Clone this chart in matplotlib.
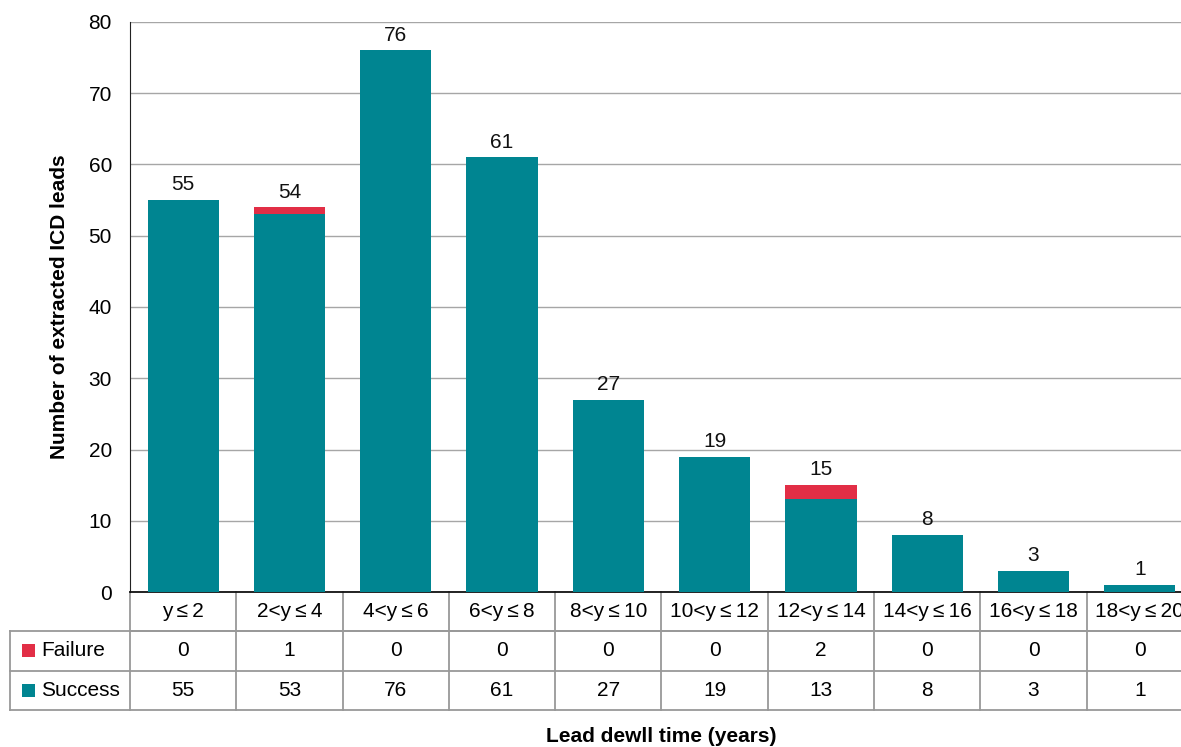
import matplotlib
matplotlib.use("Agg")
import matplotlib.pyplot as plt
import matplotlib.patches as mpatches
import numpy as np

plt.rcParams['font.family'] = ['Liberation Sans', 'DejaVu Sans']

# data
categories = ["y\u2009\u2264\u20092", "2<y\u2009\u2264\u20094", "4<y\u2009\u2264\u20096", "6<y\u2009\u2264\u20098",
              "8<y\u2009\u2264\u200910", "10<y\u2009\u2264\u200912", "12<y\u2009\u2264\u200914",
              "14<y\u2009\u2264\u200916", "16<y\u2009\u2264\u200918", "18<y\u2009\u2264\u200920"]
success = [55, 53, 76, 61, 27, 19, 13, 8, 3, 1]
failure = [0, 1, 0, 0, 0, 0, 2, 0, 0, 0]
series_names = ["Failure", "Success"]

teal = "#008591"
red = "#e22e46"
grid_c = "#a6a6a6"
tbl_c = "#999999"
fs = 15

fig = plt.figure(figsize=(11.81, 7.47), dpi=100)
ax = fig.add_axes([130 / 1181, 1 - 592 / 747, 1063 / 1181, 570 / 747])

x = np.arange(len(categories))
totals = np.array(success) + np.array(failure)
ax.bar(x, success, width=0.67, color=teal, zorder=3)
ax.bar(x, failure, bottom=success, width=0.67, color=red, zorder=3)
for xi, t in zip(x, totals):
    ax.text(xi, t + 0.8, str(t), ha='center', va='bottom', fontsize=fs, color='#111111')

ax.set_xlim(-0.5, len(categories) - 0.5)
ax.set_ylim(0, 80)
ax.set_yticks(range(0, 81, 10))
ax.yaxis.grid(True, color=grid_c, lw=1, zorder=0)
ax.set_axisbelow(True)
ax.tick_params(axis='y', length=0, pad=13, labelsize=fs)
ax.set_xticks([])
for s in ['top', 'right']:
    ax.spines[s].set_visible(False)
ax.spines['left'].set_color('#222222')
ax.spines['bottom'].set_color('#111111')
ax.spines['bottom'].set_linewidth(1.3)

# data table below the axis
row_h = 39.3 / 570
leg_left = -0.5 - 120 / 106.3
n = len(categories)
tr = ax.get_xaxis_transform()
lkw = dict(color=tbl_c, lw=1.3, clip_on=False, transform=tr)
ax.plot([-0.5, n - 0.5], [-row_h, -row_h], **lkw)
ax.plot([leg_left, n - 0.5], [-row_h, -row_h], **lkw)
ax.plot([leg_left, n - 0.5], [-2 * row_h, -2 * row_h], **lkw)
ax.plot([leg_left, n - 0.5], [-3 * row_h, -3 * row_h], **lkw)
for b in np.arange(-0.5, n, 1.0):
    ax.plot([b, b], [0, -3 * row_h], **lkw)
ax.plot([leg_left, leg_left], [-row_h, -3 * row_h], **lkw)

for xi, c in zip(x, categories):
    ax.text(xi, -0.5 * row_h, c, ha='center', va='center', fontsize=fs, transform=tr)
rows = [failure, success]
colors = [red, teal]
sq_w = 13 / 106.3
sq_h = 13 / 570
for r, (name, vals, col) in enumerate(zip(series_names, rows, colors)):
    yc = -(r + 1.5) * row_h
    for xi, v in zip(x, vals):
        ax.text(xi, yc, str(v), ha='center', va='center', fontsize=fs, transform=tr)
    ax.add_patch(mpatches.Rectangle((leg_left + 12 / 106.3, yc - sq_h / 2), sq_w, sq_h,
                                    facecolor=col, edgecolor='none', transform=tr, clip_on=False))
    ax.text(leg_left + 31 / 106.3, yc, name, ha='left', va='center', fontsize=fs, transform=tr)

ax.set_ylabel("Number of extracted ICD leads", fontsize=fs, fontweight='bold', labelpad=14)
fig.text((130 + 1063 / 2) / 1181, 1 - 737 / 747, "Lead dewll time (years)", ha='center', va='center',
         fontsize=fs, fontweight='bold')

fig.savefig("out.png", dpi=100)
